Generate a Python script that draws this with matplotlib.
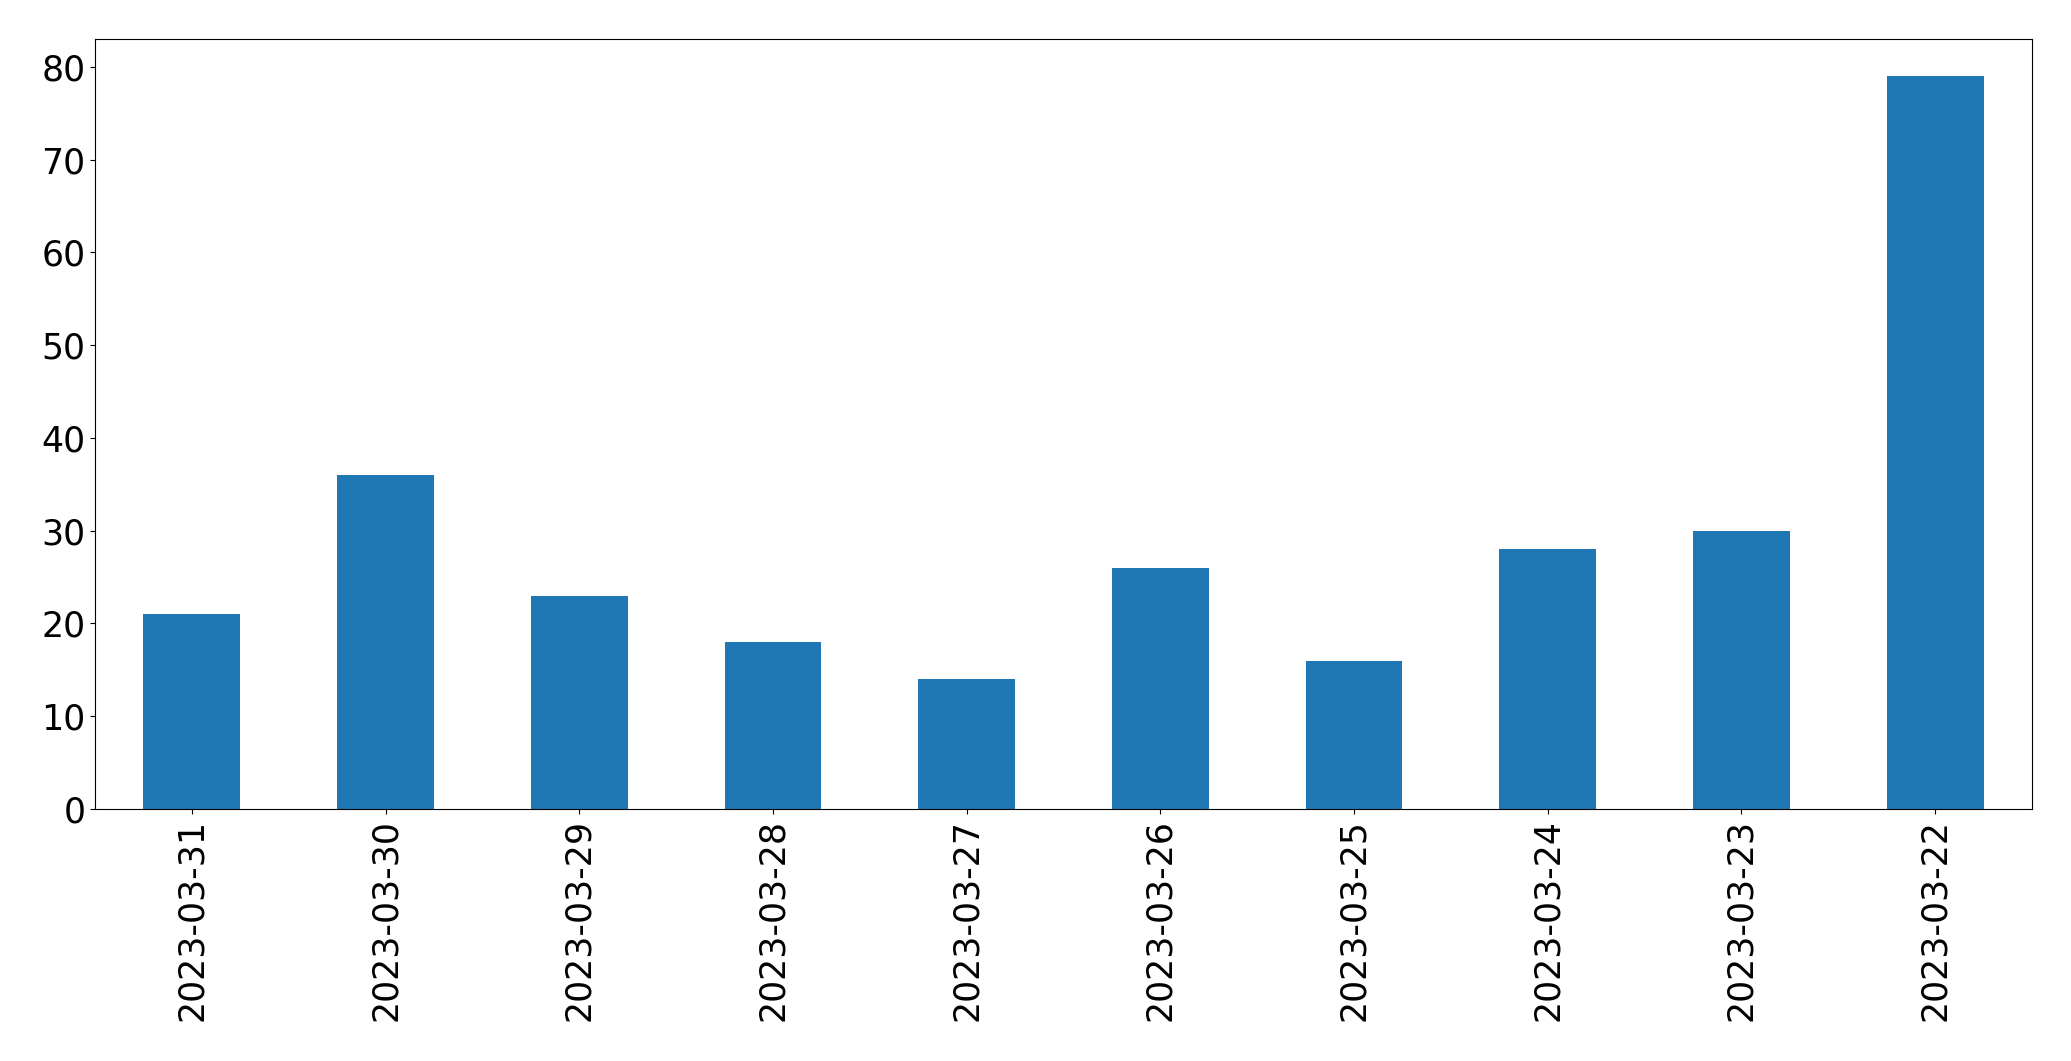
import pandas as pd
import matplotlib
matplotlib.use("Agg")
import matplotlib.pyplot as plt

# daily counts, newest first
dates = ["2023-03-31", "2023-03-30", "2023-03-29", "2023-03-28", "2023-03-27",
         "2023-03-26", "2023-03-25", "2023-03-24", "2023-03-23", "2023-03-22"]
counts = [21, 36, 23, 18, 14, 26, 16, 28, 30, 79]

s = pd.Series(counts, index=dates)

fig, ax = plt.subplots(figsize=(20.71, 10.61), dpi=100)
s.plot.bar(ax=ax, color="#1f77b4", fontsize=25)
ax.set_ylim(0, 83)
plt.subplots_adjust(left=95/2071, right=2032/2071, top=1-39/1061, bottom=1-809/1061)
plt.savefig("out.png", dpi=100)
